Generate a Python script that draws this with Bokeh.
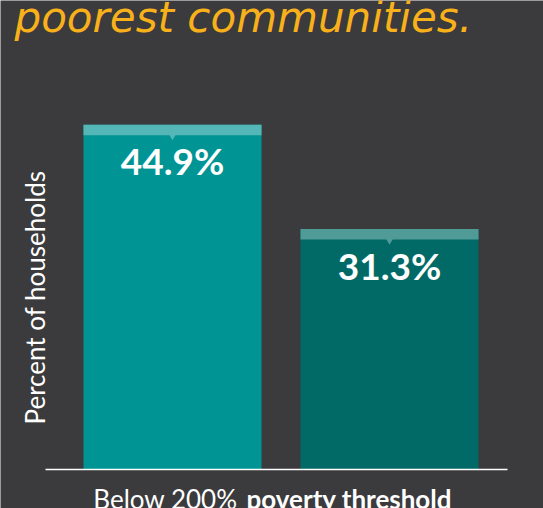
import math
from bokeh.plotting import figure
from bokeh.models import Range1d, ColumnDataSource
from bokeh.core.properties import value
from bokeh.embed import file_html
from bokeh.resources import INLINE

# ---- data ----
title_text = "poorest communities."
categories = ["Poorest communities", "Other communities"]
percent_values = [44.9, 31.3]
value_labels = ["44.9%", "31.3%"]
bar_colors = ["#009494", "#016a67"]
cap_colors = ["#54b6b6", "#509a97"]
y_axis_label = "Percent of households"
x_label_regular = "Below 200%"
x_label_bold = "poverty threshold"

# ---- layout ----
W, H = 543, 508
BG = "#3b3a3c"
PX_PER_PCT = 7.68
ZERO_Y = 469.0
PX_PER_CAT = 217.0
FIRST_CENTER = 172.0
BAR_PX = 178.0
CAP_PX = 10.5

y_top = ZERO_Y / PX_PER_PCT
y_bot = -(H - ZERO_Y) / PX_PER_PCT
x_start = -FIRST_CENTER / PX_PER_CAT
x_end = x_start + W / PX_PER_CAT


def dx(px):
    return x_start + px / PX_PER_CAT


def dy(py):
    return y_top - py / PX_PER_PCT


xs = [i for i, _ in enumerate(categories)]
src = ColumnDataSource(dict(
    x=xs,
    cat=categories,
    top=percent_values,
    cap_bottom=[v - CAP_PX / PX_PER_PCT for v in percent_values],
    label=value_labels,
    color=bar_colors,
    cap=cap_colors,
))

p = figure(width=W, height=H, x_range=Range1d(x_start, x_end), y_range=Range1d(y_bot, y_top),
           x_axis_type=None, y_axis_type=None, min_border=0,
           toolbar_location=None, output_backend="svg",
           background_fill_color=BG, border_fill_color=BG, outline_line_color=None)
p.grid.visible = False

bw = BAR_PX / PX_PER_CAT
p.vbar(x="x", top="top", bottom=0, width=bw, fill_color="color", line_color=None, source=src)
p.vbar(x="x", top="top", bottom="cap_bottom", width=bw, fill_color="cap", line_color=None, source=src)
p.scatter(x="x", y="cap_bottom", marker="inverted_triangle", size=9, fill_color="cap",
          line_color=None, source=src)

p.text(x="x", y="top", text="label", source=src, text_align="center", text_baseline="alphabetic",
       y_offset=36, text_font=value("Lato"), text_font_style="bold", text_font_size="37px",
       text_color="white")

# baseline
p.segment(x0=[dx(45)], y0=[0], x1=[dx(507)], y1=[0], line_color="white", line_width=1.5)

# title (cut off at top as in the original)
p.text(x=[dx(14)], y=[dy(17)], text=[title_text], text_align="left", text_baseline="alphabetic",
       text_font=value("DejaVu Sans"), text_font_style="italic", text_font_size="42px",
       text_color="#f8b11a")

# y label
p.text(x=[dx(34)], y=[dy(297)], text=[y_axis_label], angle=math.pi / 2, text_align="center",
       text_baseline="middle", text_font=value("Lato"), text_font_size="26px", text_color="white")

# x label
p.text(x=[dx(237)], y=[dy(498)], text=[x_label_regular], text_align="right",
       text_baseline="alphabetic", text_font=value("Lato"), text_font_size="26px",
       text_color="white")
p.text(x=[dx(246)], y=[dy(498)], text=[x_label_bold], text_align="left",
       text_baseline="alphabetic", text_font=value("Lato"), text_font_style="bold",
       text_font_size="26px", text_color="white")

html = file_html(p, INLINE)
html = html.replace("<body>", '<body style="margin:0;overflow:hidden;background-color:%s;">' % BG, 1)
open("out.html", "w").write(html)
